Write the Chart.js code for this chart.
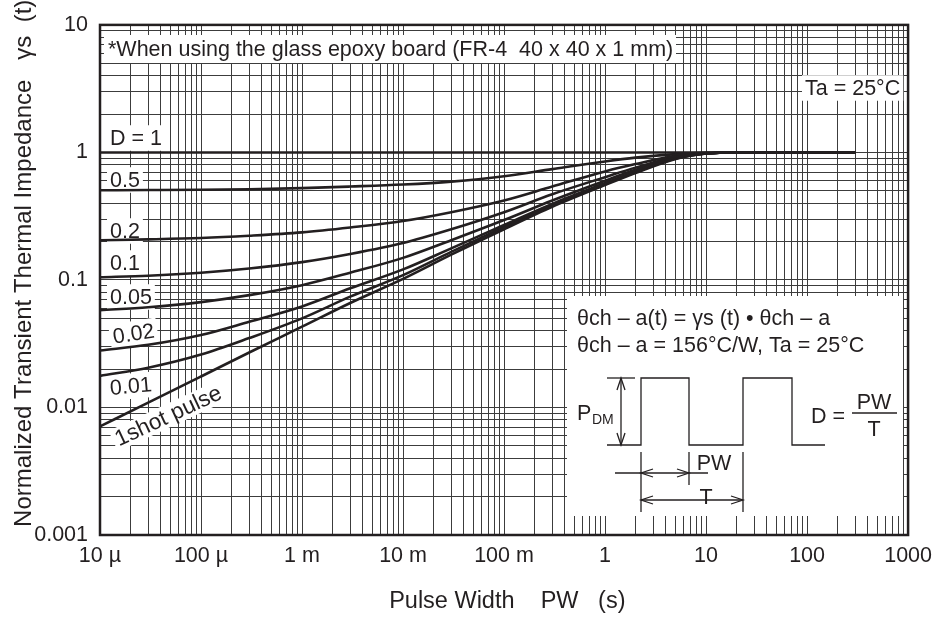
<!DOCTYPE html>
<html>
<head>
<meta charset="utf-8">
<script src="https://cdn.jsdelivr.net/npm/chart.js@4.4.0/dist/chart.umd.min.js"></script>
<style>
  html, body { margin: 0; padding: 0; background: #fff; }
  #wrap { width: 940px; height: 625px; position: relative; }
</style>
</head>
<body>
<div id="wrap"><canvas id="zthChart" width="940" height="625"></canvas></div>
<script>
// pulse width (s)
const pulseWidth = [1e-5, 3e-5, 1e-4, 3e-4, 1e-3, 3e-3, 1e-2, 3e-2, 0.1, 0.3, 1, 2, 5, 10, 20, 100, 300];

// normalized transient thermal impedance for each duty
const zthD1    = [1, 1, 1, 1, 1, 1, 1, 1, 1, 1, 1, 1, 1, 1, 1, 1, 1];
const zthD05   = [0.505, 0.507, 0.51, 0.515, 0.525, 0.54, 0.56, 0.59, 0.65, 0.74, 0.85, 0.91, 0.97, 0.995, 1, 1, 1];
const zthD02   = [0.205, 0.208, 0.213, 0.222, 0.236, 0.258, 0.29, 0.34, 0.42, 0.54, 0.71, 0.81, 0.94, 0.99, 1, 1, 1];
const zthD01   = [0.105, 0.108, 0.114, 0.123, 0.138, 0.16, 0.195, 0.25, 0.34, 0.47, 0.64, 0.76, 0.92, 0.985, 1, 1, 1];
const zthD005  = [0.058, 0.061, 0.067, 0.076, 0.091, 0.114, 0.149, 0.205, 0.295, 0.42, 0.6, 0.73, 0.91, 0.98, 1, 1, 1];
const zthD002  = [0.028, 0.031, 0.037, 0.047, 0.062, 0.086, 0.121, 0.177, 0.27, 0.395, 0.575, 0.71, 0.9, 0.98, 1, 1, 1];
const zthD001  = [0.0177, 0.0205, 0.026, 0.035, 0.05, 0.074, 0.109, 0.166, 0.26, 0.385, 0.565, 0.7, 0.895, 0.98, 1, 1, 1];
const zthSingle = [0.0071, 0.0109, 0.0175, 0.027, 0.043, 0.066, 0.102, 0.158, 0.25, 0.375, 0.555, 0.69, 0.89, 0.98, 1, 1, 1];

// axis ticks
const xDecades = [1e-5, 1e-4, 1e-3, 1e-2, 1e-1, 1, 10, 100, 1000];
const xTickLabels = ['10 \u00b5', '100 \u00b5', '1 m', '10 m', '100 m', '1', '10', '100', '1000'];
const yDecades = [0.001, 0.01, 0.1, 1, 10];
const yTickLabels = ['0.001', '0.01', '0.1', '1', '10'];
const minorSteps = [2, 3, 4, 5, 6, 7, 8, 9];

const INK = '#231f20';
const FONT = '"Liberation Sans", Arial, Helvetica, sans-serif';
const FS = 21.5;

Chart.defaults.font.family = FONT;
Chart.defaults.color = INK;

function logTicks(decades) {
    const out = [];
    decades.forEach((d, i) => {
        out.push({ value: d, major: true });
        if (i < decades.length - 1) {
            minorSteps.forEach(m => out.push({ value: d * m, major: false }));
        }
    });
    return out;
}

function toPoints(values) {
    return pulseWidth.map((t, i) => ({ x: t, y: values[i] }));
}

function curve(label, values) {
    return {
        label: label,
        data: toPoints(values),
        borderColor: INK,
        borderWidth: 2.6,
        pointRadius: 0,
        fill: false,
        cubicInterpolationMode: 'monotone'
    };
}

// text, optionally on a white box
function boxText(ctx, text, x, y, opts) {
    opts = opts || {};
    const size = opts.size || FS;
    ctx.save();
    ctx.font = size + 'px ' + FONT;
    ctx.textBaseline = 'middle';
    ctx.textAlign = 'left';
    const w = ctx.measureText(text).width;
    ctx.translate(x, y);
    if (opts.angle) ctx.rotate(opts.angle * Math.PI / 180);
    if (opts.box !== false) {
        const px = opts.padX != null ? opts.padX : 3;
        const py = opts.padY != null ? opts.padY : 2;
        ctx.fillStyle = '#fff';
        ctx.fillRect(-px, -size / 2 - py, w + 2 * px, size + 2 * py);
    }
    ctx.fillStyle = INK;
    ctx.fillText(text, 0, 1);
    ctx.restore();
}

function line(ctx, pts) {
    ctx.beginPath();
    ctx.moveTo(pts[0][0], pts[0][1]);
    for (let i = 1; i < pts.length; i++) ctx.lineTo(pts[i][0], pts[i][1]);
    ctx.stroke();
}

function arrowHead(ctx, x, y, dx, dy) {
    // open chevron, tip at (x, y), pointing along (dx, dy)
    const len = 12, half = 4;
    const nx = -dy, ny = dx;
    line(ctx, [[x - dx * len + nx * half, y - dy * len + ny * half], [x, y],
               [x - dx * len - nx * half, y - dy * len - ny * half]]);
}

const notesPlugin = {
    id: 'notes',
    beforeDatasetsDraw(chart) {
        const ctx = chart.ctx;

        // board note and ambient temperature
        ctx.save();
        ctx.fillStyle = '#fff';
        ctx.fillRect(104, 35, 572, 28);
        ctx.restore();
        boxText(ctx, '*When using the glass epoxy board (FR-4  40 x 40 x 1 mm)', 108, 49, { box: false });
        boxText(ctx, 'Ta = 25\u00b0C', 805, 88);

        // duty labels
        boxText(ctx, 'D = 1', 110, 138);
        boxText(ctx, '0.5', 110, 180);
        boxText(ctx, '0.2', 110, 231);
        boxText(ctx, '0.1', 110, 263);
        boxText(ctx, '0.05', 110, 297);
        boxText(ctx, '0.02', 113, 337, { angle: -9 });
        boxText(ctx, '0.01', 110, 388, { angle: -5 });
        boxText(ctx, '1shot pulse', 116, 440, { angle: -25, padY: 0, size: 22.5 });

        // inset
        ctx.save();
        ctx.fillStyle = '#fff';
        ctx.fillRect(567, 296, 336, 220);
        ctx.restore();
        boxText(ctx, '\u03b8ch \u2013 a(t) = \u03b3s (t) \u2022 \u03b8ch \u2013 a', 577, 318, { box: false });
        boxText(ctx, '\u03b8ch \u2013 a = 156\u00b0C/W, Ta = 25\u00b0C', 577, 345, { box: false });

        ctx.save();
        ctx.strokeStyle = INK;
        ctx.lineWidth = 1.3;
        const lo = 445, hi = 378;
        // pulse train
        line(ctx, [[607, lo], [641, lo], [641, hi], [689, hi], [689, lo], [743, lo],
                   [743, hi], [792, hi], [792, lo], [825, lo]]);
        // P_DM dimension
        line(ctx, [[607, hi], [635, hi]]);
        line(ctx, [[621, hi], [621, lo]]);
        arrowHead(ctx, 621, hi, 0, -1);
        arrowHead(ctx, 621, lo, 0, 1);
        // extension lines
        line(ctx, [[641, 452], [641, 512]]);
        line(ctx, [[689, 452], [689, 485]]);
        line(ctx, [[743, 452], [743, 512]]);
        // PW dimension
        line(ctx, [[615, 473], [708, 473]]);
        arrowHead(ctx, 641, 473, -1, 0);
        arrowHead(ctx, 689, 473, 1, 0);
        // T dimension
        line(ctx, [[641, 500], [743, 500]]);
        arrowHead(ctx, 641, 500, -1, 0);
        arrowHead(ctx, 743, 500, 1, 0);
        // D = PW / T fraction bar
        line(ctx, [[852, 413], [897, 413]]);
        ctx.restore();

        ctx.save();
        ctx.fillStyle = INK;
        ctx.textBaseline = 'alphabetic';
        ctx.font = FS + 'px ' + FONT;
        ctx.fillText('P', 577, 420);
        ctx.fillText('D =', 811, 423);
        ctx.textAlign = 'center';
        ctx.fillText('PW', 874, 409);
        ctx.fillText('T', 874, 436);
        ctx.fillText('PW', 714, 470);
        ctx.fillText('T', 706, 504);
        ctx.textAlign = 'left';
        ctx.font = '14px ' + FONT;
        ctx.fillText('DM', 592, 424);
        ctx.restore();
    },
    afterDatasetsDraw(chart) {
        const a = chart.chartArea;
        const ctx = chart.ctx;
        ctx.save();
        ctx.strokeStyle = INK;
        ctx.lineWidth = 2.5;
        ctx.strokeRect(a.left, a.top, a.right - a.left, a.bottom - a.top);
        ctx.restore();
    }
};

new Chart(document.getElementById('zthChart').getContext('2d'), {
    type: 'line',
    data: {
        datasets: [
            curve('D = 1', zthD1),
            curve('0.5', zthD05),
            curve('0.2', zthD02),
            curve('0.1', zthD01),
            curve('0.05', zthD005),
            curve('0.02', zthD002),
            curve('0.01', zthD001),
            curve('1shot pulse', zthSingle)
        ]
    },
    options: {
        responsive: false,
        animation: false,
        layout: { padding: { top: 24, right: 25, left: 0, bottom: 0 } },
        plugins: {
            legend: { display: false },
            tooltip: { enabled: false }
        },
        scales: {
            x: {
                type: 'logarithmic',
                min: 1e-5,
                max: 1000,
                afterBuildTicks: axis => { axis.ticks = logTicks(xDecades); },
                afterFit: axis => { axis.height = 90; },
                ticks: {
                    autoSkip: false,
                    maxRotation: 0,
                    padding: 8,
                    font: { size: FS },
                    callback: value => {
                        const i = xDecades.findIndex(d => Math.abs(d - value) / d < 1e-6);
                        return i >= 0 ? xTickLabels[i] : '';
                    }
                },
                grid: { color: '#3c3c3c', lineWidth: 1, drawTicks: false },
                border: { display: false },
                title: {
                    display: true,
                    text: '\u00a0Pulse Width    PW   (s)',
                    font: { size: 23.5 },
                    padding: { top: 0, bottom: 9 }
                }
            },
            y: {
                type: 'logarithmic',
                min: 0.001,
                max: 10,
                afterBuildTicks: axis => { axis.ticks = logTicks(yDecades); },
                afterFit: axis => { axis.width = 100; },
                ticks: {
                    autoSkip: false,
                    padding: 12,
                    font: { size: FS },
                    callback: value => {
                        const i = yDecades.findIndex(d => Math.abs(d - value) / d < 1e-6);
                        return i >= 0 ? yTickLabels[i] : '';
                    }
                },
                grid: { color: '#3c3c3c', lineWidth: 1, drawTicks: false },
                border: { display: false },
                title: {
                    display: true,
                    text: '\u00a0\u00a0\u00a0\u00a0\u00a0Normalized Transient Thermal Impedance   \u03b3s  (t)',
                    font: { size: 24 },
                    padding: { top: 10, bottom: 0 }
                }
            }
        }
    },
    plugins: [notesPlugin]
});
</script>
</body>
</html>
